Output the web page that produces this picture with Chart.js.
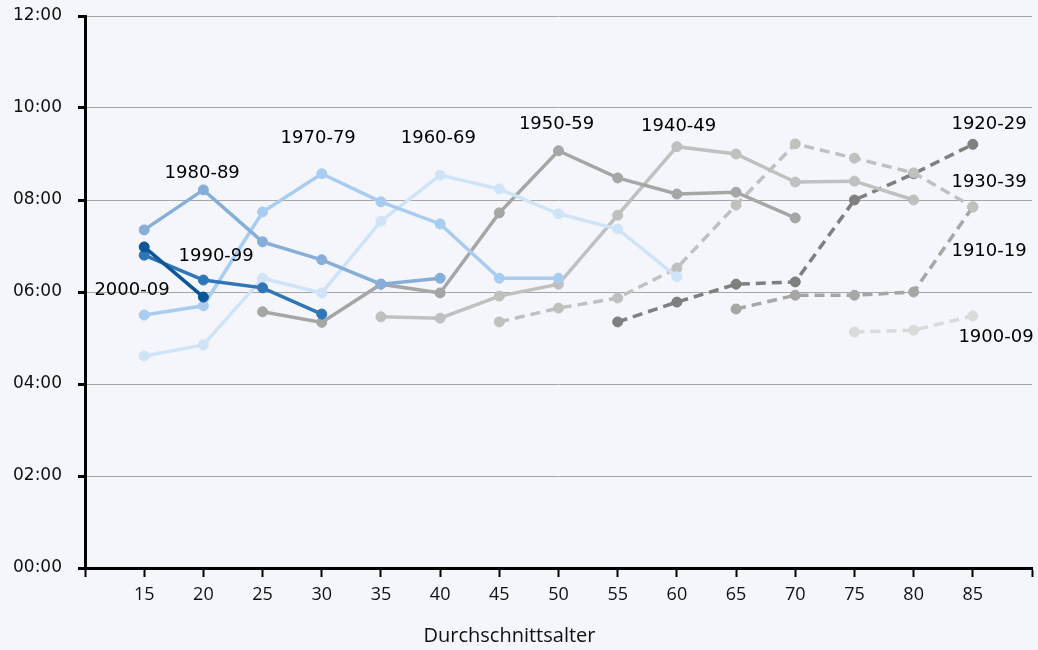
<!DOCTYPE html>
<html>
<head>
<meta charset="utf-8">
<script src="https://cdn.jsdelivr.net/npm/chart.js@4.4.1/dist/chart.umd.min.js"></script>
<style>
  html, body { margin: 0; padding: 0; background: #f4f6fb; }
  #wrap { width: 1038px; height: 650px; }
</style>
</head>
<body>
<div id="wrap"><canvas id="c" width="1038" height="650"></canvas></div>
<script>
// ---- data (hours of the day, decimal) ----
const ages = [15, 20, 25, 30, 35, 40, 45, 50, 55, 60, 65, 70, 75, 80, 85];
const cohorts = ['2000-09', '1990-99', '1980-89', '1970-79', '1960-69', '1950-59', '1940-49', '1930-39', '1920-29', '1910-19', '1900-09'];
const s2000 = [6.98, 5.89, null, null, null, null, null, null, null, null, null, null, null, null, null];
const s1990 = [6.80, 6.26, 6.09, 5.52, null, null, null, null, null, null, null, null, null, null, null];
const s1980 = [7.35, 8.22, 7.09, 6.70, 6.17, 6.30, null, null, null, null, null, null, null, null, null];
const s1970 = [5.50, 5.70, 7.74, 8.57, 7.96, 7.48, 6.30, 6.30, null, null, null, null, null, null, null];
const s1960 = [4.61, 4.85, 6.30, 5.98, 7.54, 8.54, 8.24, 7.70, 7.37, 6.33, null, null, null, null, null];
const s1950 = [null, null, 5.57, 5.34, 6.17, 5.98, 7.72, 9.07, 8.48, 8.13, 8.17, 7.61, null, null, null];
const s1940 = [null, null, null, null, 5.46, 5.43, 5.91, 6.17, 7.67, 9.16, 9.00, 8.39, 8.41, 8.00, null];
const s1930 = [null, null, null, null, null, null, 5.35, 5.65, 5.87, 6.52, 7.89, 9.22, 8.91, 8.59, 7.85];
const s1920 = [null, null, null, null, null, null, null, null, 5.35, 5.78, 6.17, 6.22, 8.00, 8.57, 9.21];
const s1910 = [null, null, null, null, null, null, null, null, null, null, 5.63, 5.93, 5.93, 6.00, 7.85];
const s1900 = [null, null, null, null, null, null, null, null, null, null, null, null, 5.13, 5.17, 5.48];
const seriesValues = [s2000, s1990, s1980, s1970, s1960, s1950, s1940, s1930, s1920, s1910, s1900];
// label anchors in data units (age, hour)
const labelAge  = [13.97, 21.08, 19.9, 29.7, 39.85, 49.83, 60.15, 86.37, 86.37, 86.37, 86.96];
const labelHour = [6.04, 6.78, 8.59, 9.35, 9.35, 9.65, 9.61, 8.39, 9.65, 6.89, 5.02];
const yTicks = [0, 2, 4, 6, 8, 10, 12];
const xTitle = 'Durchschnittsalter';

// ---- styles ----
const colors = ['#0b5699', '#2e76b8', '#86aed9', '#a9cdf0', '#d0e4f8', '#a6a6a6', '#c0c0c0', '#c0c0c0', '#7f7f7f', '#a6a6a6', '#dadada'];
const dashed = [false, false, false, false, false, false, false, true, true, true, true];

const datasets = cohorts.map((name, i) => ({
  label: name,
  data: ages.map((a, j) => ({ x: a, y: seriesValues[i][j] })),
  borderColor: colors[i],
  backgroundColor: colors[i],
  pointBackgroundColor: colors[i],
  pointBorderColor: colors[i],
  pointRadius: 5,
  pointBorderWidth: 1,
  pointHoverRadius: 5,
  borderWidth: 3.5,
  borderDash: dashed[i] ? [10, 6] : [],
  spanGaps: false,
  tension: 0
}));

const bgPlugin = {
  id: 'bg',
  beforeDraw(chart) {
    const ctx = chart.ctx;
    ctx.save();
    ctx.fillStyle = '#f4f6fb';
    ctx.fillRect(0, 0, chart.width, chart.height);
    ctx.restore();
  }
};

const labelPlugin = {
  id: 'cohortLabels',
  afterDatasetsDraw(chart) {
    const ctx = chart.ctx, xs = chart.scales.x, ys = chart.scales.y;
    ctx.save();
    ctx.font = '18px "DejaVu Sans"';
    ctx.fillStyle = '#000';
    ctx.textAlign = 'center';
    ctx.textBaseline = 'middle';
    cohorts.forEach((name, i) => {
      ctx.fillText(name, xs.getPixelForValue(labelAge[i]), ys.getPixelForValue(labelHour[i]));
    });
    ctx.font = '20px "Open Sans"';
    ctx.fillStyle = '#111';
    ctx.fillText(xTitle, xs.getPixelForValue(45.86), 636);
    ctx.restore();
  }
};

new Chart(document.getElementById('c'), {
  type: 'line',
  data: { datasets },
  plugins: [bgPlugin, labelPlugin],
  options: {
    responsive: false,
    animation: false,
    events: [],
    layout: { padding: { top: 16, right: 6, left: 0, bottom: 0 } },
    plugins: { legend: { display: false }, tooltip: { enabled: false } },
    scales: {
      x: {
        type: 'linear',
        min: 10, max: 90,
        afterFit(scale) { scale.height = 82; scale.paddingLeft = 0; scale.paddingRight = 0; },
        afterBuildTicks(scale) {
          const t = [];
          for (let v = 10; v <= 90; v += 5) t.push({ value: v });
          scale.ticks = t;
        },
        ticks: {
          autoSkip: false,
          maxRotation: 0,
          padding: 7,
          color: '#111',
          font: { family: 'Open Sans', size: 18 },
          callback: (v) => (v === 10 || v === 90) ? '' : String(v)
        },
        grid: { drawOnChartArea: false, drawTicks: true, tickLength: 9, tickColor: '#000', tickWidth: 2 },
        border: { display: true, color: '#000', width: 3 }
      },
      y: {
        min: 0, max: 12,
        afterFit(scale) { scale.width = 85; scale.paddingTop = 0; scale.paddingBottom = 0; },
        afterBuildTicks(scale) { scale.ticks = yTicks.map(v => ({ value: v })); },
        ticks: {
          padding: 16,
          color: '#111',
          font: { family: 'DejaVu Sans', size: 17 },
          callback: (v) => String(v).padStart(2, '0') + ':00'
        },
        grid: { color: '#a6a6a6', lineWidth: 1, drawTicks: true, tickLength: 7, tickColor: '#000', tickWidth: 3 },
        border: { display: true, color: '#000', width: 3 }
      }
    }
  }
});
</script>
</body>
</html>
